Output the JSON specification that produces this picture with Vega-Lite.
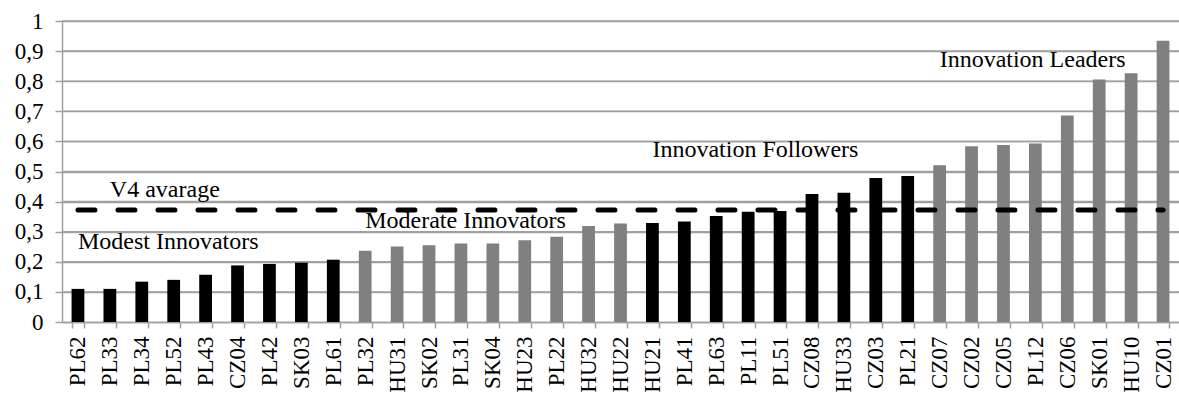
{
  "$schema": "https://vega.github.io/schema/vega-lite/v6.json",
  "width": 1117,
  "height": 301,
  "autosize": {"type": "none"},
  "padding": {"left": 62, "top": 21, "right": 0, "bottom": 72},
  "background": "white",
  "config": {
    "view": {"stroke": null},
    "font": "Liberation Serif",
    "text": {"font": "Liberation Serif", "fontSize": 24, "fontWeight": "normal", "fill": "#000000", "baseline": "alphabetic"}
  },
  "resolve": {"axis": {"x": "independent", "y": "independent"}},
  "datasets": {
    "gridlines": [
      {"tick": 0.1}, {"tick": 0.2}, {"tick": 0.3}, {"tick": 0.4}, {"tick": 0.5},
      {"tick": 0.6}, {"tick": 0.7}, {"tick": 0.8}, {"tick": 0.9}, {"tick": 1.0}
    ]
  },
  "data": {
    "values": [
      {"region": "PL62", "value": 0.110, "group": "Modest"},
      {"region": "PL33", "value": 0.110, "group": "Modest"},
      {"region": "PL34", "value": 0.134, "group": "Modest"},
      {"region": "PL52", "value": 0.140, "group": "Modest"},
      {"region": "PL43", "value": 0.157, "group": "Modest"},
      {"region": "CZ04", "value": 0.188, "group": "Modest"},
      {"region": "PL42", "value": 0.193, "group": "Modest"},
      {"region": "SK03", "value": 0.197, "group": "Modest"},
      {"region": "PL61", "value": 0.207, "group": "Modest"},
      {"region": "PL32", "value": 0.237, "group": "Moderate"},
      {"region": "HU31", "value": 0.251, "group": "Moderate"},
      {"region": "SK02", "value": 0.255, "group": "Moderate"},
      {"region": "PL31", "value": 0.261, "group": "Moderate"},
      {"region": "SK04", "value": 0.261, "group": "Moderate"},
      {"region": "HU23", "value": 0.272, "group": "Moderate"},
      {"region": "PL22", "value": 0.283, "group": "Moderate"},
      {"region": "HU32", "value": 0.319, "group": "Moderate"},
      {"region": "HU22", "value": 0.327, "group": "Moderate"},
      {"region": "HU21", "value": 0.329, "group": "Followers"},
      {"region": "PL41", "value": 0.334, "group": "Followers"},
      {"region": "PL63", "value": 0.352, "group": "Followers"},
      {"region": "PL11", "value": 0.366, "group": "Followers"},
      {"region": "PL51", "value": 0.369, "group": "Followers"},
      {"region": "CZ08", "value": 0.425, "group": "Followers"},
      {"region": "HU33", "value": 0.429, "group": "Followers"},
      {"region": "CZ03", "value": 0.478, "group": "Followers"},
      {"region": "PL21", "value": 0.485, "group": "Followers"},
      {"region": "CZ07", "value": 0.521, "group": "Leaders"},
      {"region": "CZ02", "value": 0.584, "group": "Leaders"},
      {"region": "CZ05", "value": 0.588, "group": "Leaders"},
      {"region": "PL12", "value": 0.593, "group": "Leaders"},
      {"region": "CZ06", "value": 0.686, "group": "Leaders"},
      {"region": "SK01", "value": 0.806, "group": "Leaders"},
      {"region": "HU10", "value": 0.826, "group": "Leaders"},
      {"region": "CZ01", "value": 0.934, "group": "Leaders"}
    ]
  },
  "layer": [
    {
      "data": {"name": "gridlines"},
      "mark": {"type": "rule", "stroke": "#a0a0a0", "strokeWidth": 1.5},
      "encoding": {
        "y": {"field": "tick", "type": "quantitative", "axis": null}
      }
    },
    {
      "mark": {"type": "bar"},
      "encoding": {
        "x": {
          "field": "region",
          "type": "nominal",
          "sort": null,
          "scale": {"paddingInner": 0.6, "paddingOuter": 0.3},
          "axis": {
            "title": null,
            "labelAngle": -90,
            "labelAlign": "right",
            "labelBaseline": "middle",
            "labelFont": "Liberation Serif",
            "labelFontSize": 23,
            "labelColor": "#000000",
            "labelPadding": 8,
            "domainColor": "#a0a0a0",
            "domainWidth": 1.5,
            "tickColor": "#a0a0a0",
            "tickWidth": 1.5,
            "tickSize": 6,
            "tickBand": "extent",
            "grid": false
          }
        },
        "y": {
          "field": "value",
          "type": "quantitative",
          "scale": {"domain": [0, 1], "nice": false},
          "axis": {
            "title": null,
            "grid": true,
            "gridColor": "#a0a0a0",
            "gridWidth": 1.5,
            "labelFont": "Liberation Serif",
            "labelFontSize": 23,
            "labelColor": "#000000",
            "labelPadding": 12,
            "labelOverlap": false,
            "domainColor": "#a0a0a0",
            "domainWidth": 1.5,
            "tickColor": "#a0a0a0",
            "tickWidth": 1.5,
            "tickSize": 7,
            "values": [0, 0.1, 0.2, 0.3, 0.4, 0.5, 0.6, 0.7, 0.8, 0.9, 1],
            "labelExpr": "replace(format(datum.value, '.1~f'), '.', ',')"
          }
        },
        "color": {
          "field": "group",
          "type": "nominal",
          "scale": {"domain": ["Modest", "Moderate", "Followers", "Leaders"], "range": ["#000000", "#808080", "#000000", "#808080"]},
          "legend": null
        }
      }
    },
    {
      "mark": {"type": "line", "stroke": "#000000", "strokeWidth": 5, "strokeDash": [17, 23], "strokeCap": "round"},
      "encoding": {
        "x": {"field": "region", "type": "nominal", "sort": null, "axis": null},
        "y": {"datum": 0.372, "axis": null}
      }
    },
    {
      "data": {"values": [{"label": "V4 avarage"}]},
      "mark": {"type": "text", "align": "left"},
      "encoding": {"text": {"field": "label"}, "x": {"datum": "PL33", "axis": null}, "y": {"datum": 0.416, "axis": null}}
    },
    {
      "data": {"values": [{"label": "Modest Innovators"}]},
      "mark": {"type": "text", "align": "left"},
      "encoding": {"text": {"field": "label"}, "x": {"datum": "PL62", "axis": null}, "y": {"datum": 0.242, "axis": null}}
    },
    {
      "data": {"values": [{"label": "Moderate Innovators"}]},
      "mark": {"type": "text", "align": "left"},
      "encoding": {"text": {"field": "label"}, "x": {"datum": "PL32", "axis": null}, "y": {"datum": 0.312, "axis": null}}
    },
    {
      "data": {"values": [{"label": "Innovation Followers"}]},
      "mark": {"type": "text", "align": "left"},
      "encoding": {"text": {"field": "label"}, "x": {"datum": "HU21", "axis": null}, "y": {"datum": 0.549, "axis": null}}
    },
    {
      "data": {"values": [{"label": "Innovation Leaders"}]},
      "mark": {"type": "text", "align": "left"},
      "encoding": {"text": {"field": "label"}, "x": {"datum": "CZ07", "axis": null}, "y": {"datum": 0.847, "axis": null}}
    }
  ]
}
